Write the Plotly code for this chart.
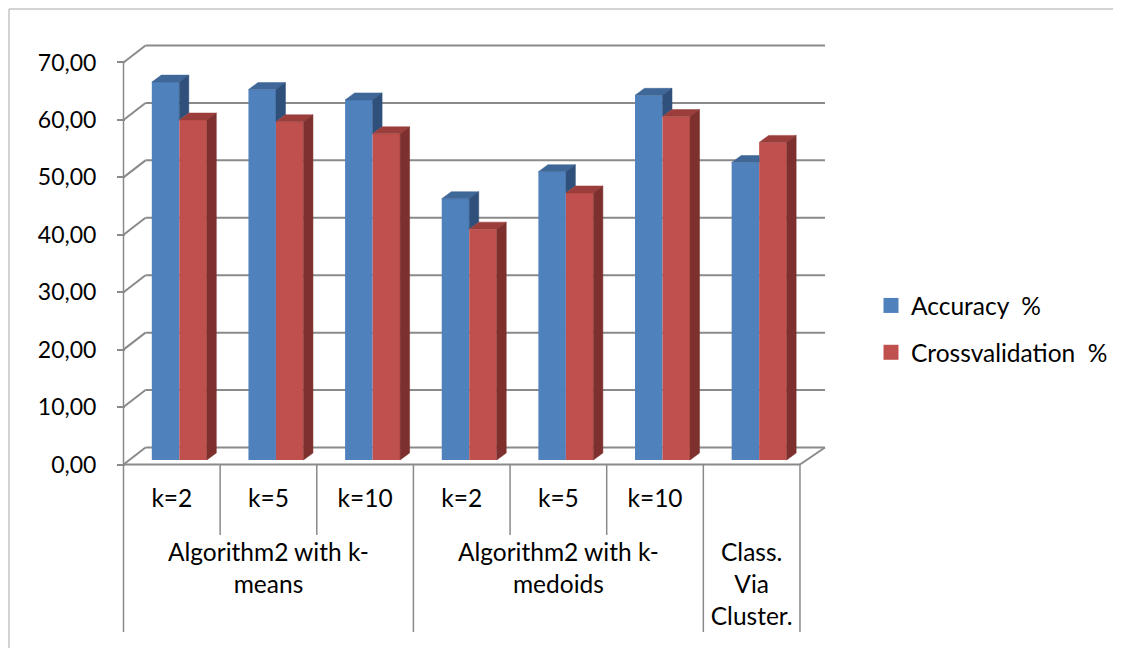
import plotly.graph_objects as go

# ---------------- data ----------------
categories = ["k=2", "k=5", "k=10", "k=2", "k=5", "k=10", ""]
group_labels = ["Algorithm2 with k-<br>means", "Algorithm2 with k-<br>medoids", "Class.<br>Via<br>Cluster."]
group_centers = [1, 4, 6]
accuracy = [65.8, 64.5, 62.7, 45.5, 50.2, 63.5, 51.8]
crossval = [59.2, 58.9, 56.8, 40.2, 46.5, 59.8, 55.3]
tick_vals = [0, 10, 20, 30, 40, 50, 60, 70]
tick_text = ["0,00", "10,00", "20,00", "30,00", "40,00", "50,00", "60,00", "70,00"]
series_names = ["Accuracy \u00a0%", "Crossvalidation \u00a0%"]

# ---------------- geometry / style ----------------
OFF = 8                      # page body margin of the html page
W, H = 1121 - OFF, 648 - OFF
PX0, PY0, PW, PH = 100, 30, 740, 610     # plot area in screen pixels
UX = 96.64          # px per category
UY = 5.743          # px per value unit
Y0PX = 464.5        # pixel of value 0 on the front plane
XMIN = -0.5 - (123.5 - PX0) / UX
XMAX = XMIN + PW / UX
YMAX = (Y0PX - PY0) / UY
YMIN = YMAX - PH / UY

def ypx(p):
    return (Y0PX - p) / UY

DXL, DXR, DYU = 22 / UX, 25 / UX, 17 / UY      # depth of wall
BW = 27.5 / UX                                   # bar width
SH = 7.5 / UX                                    # bar pair shift (depth)
BASE = 4.5 / UY                                  # bar base above front floor
DDX, DDY = 9.5 / UX, 7 / UY                      # bar depth

FONT = "Lato, Carlito, Calibri, sans-serif"
GRID = "#8A8A8A"
BLUE, RED = "#4F81BD", "#C0504D"
BLUE_TOP, BLUE_SIDE = "#3F6797", "#2F507A"
RED_TOP, RED_SIDE = "#9B3E3B", "#7E302E"

n = len(categories)
idx = list(range(n))
xs = [i + SH for i in idx]

fig = go.Figure()

# front faces
fig.add_trace(go.Bar(x=xs, y=accuracy, base=BASE, width=BW, offset=-BW,
                     marker=dict(color=BLUE, line=dict(width=0)), showlegend=False, hoverinfo="skip"))
fig.add_trace(go.Bar(x=xs, y=crossval, base=BASE, width=BW, offset=0,
                     marker=dict(color=RED, line=dict(width=0)), showlegend=False, hoverinfo="skip"))

# top / side faces
bt_x, bt_y, bs_x, bs_y, rt_x, rt_y, rs_x, rs_y = ([] for _ in range(8))
for i in idx:
    xl, xm, xr = xs[i] - BW, xs[i], xs[i] + BW
    tb, tr = BASE + accuracy[i], BASE + crossval[i]
    rt_x += [xm, xr, xr + DDX, xm + DDX, xm, None]
    rt_y += [tr, tr, tr + DDY, tr + DDY, tr, None]
    rs_x += [xr, xr + DDX, xr + DDX, xr, xr, None]
    rs_y += [BASE, BASE + DDY, tr + DDY, tr, BASE, None]
    if accuracy[i] >= crossval[i]:
        bt_x += [xl, xm, xm + DDX, xl + DDX, xl, None]
        bt_y += [tb, tb, tb + DDY, tb + DDY, tb, None]
        bs_x += [xm, xm + DDX, xm + DDX, xm, xm, None]
        bs_y += [tr, tr + DDY, tb + DDY, tb, tr, None]
    else:
        bt_x += [xl, xm, xm, xl + DDX, xl, None]
        bt_y += [tb, tb, tb + DDY, tb + DDY, tb, None]

for fx, fy, col in [(bt_x, bt_y, BLUE_TOP), (bs_x, bs_y, BLUE_SIDE),
                    (rt_x, rt_y, RED_TOP), (rs_x, rs_y, RED_SIDE)]:
    fig.add_trace(go.Scatter(x=fx, y=fy, mode="lines", fill="toself", fillcolor=col,
                             line=dict(color=col, width=0.5), showlegend=False, hoverinfo="skip"))

# legend entries
for name, col, g in [(series_names[0], BLUE, "a"), (series_names[1], RED, "b")]:
    fig.add_trace(go.Scatter(x=[None], y=[None], mode="markers", name=name, legendgroup=g,
                             marker=dict(symbol="square", size=15, color=col)))

# ---------------- walls, grid, dividers ----------------
shapes = []
def line(x0, y0, x1, y1, color=GRID, width=2):
    shapes.append(dict(type="line", xref="x", yref="y", x0=x0, y0=y0, x1=x1, y1=y1,
                       line=dict(color=color, width=width), layer="below"))

for v in tick_vals:
    line(-0.5, v, -0.5 + DXL, v + DYU)
    line(-0.5 + DXL, v + DYU, n - 0.5 + DXR, v + DYU)
line(-0.5, 0, n - 0.5, 0)
line(n - 0.5, 0, n - 0.5 + DXR, DYU)
line(-0.5, tick_vals[-1], -0.5, ypx(632), width=1.5)
for b in [0.5, 1.5, 3.5, 4.5]:
    line(b, 0, b, ypx(535), width=1.5)
for b in [2.5, 5.5, 6.5]:
    line(b, 0, b, ypx(632), width=1.5)

# outer chart border
shapes.append(dict(type="rect", xref="paper", yref="paper",
                   x0=(9 - PX0) / PW, x1=(1117 - PX0) / PW,
                   y0=(PY0 + PH - 660) / PH, y1=(PY0 + PH - 9) / PH,
                   line=dict(color="#A8A8A8", width=1), layer="below"))

axis_pos_y = (PY0 + PH - Y0PX) / PH
fig.update_layout(
    template="none",
    width=W, height=H,
    margin=dict(l=PX0 - OFF, r=W - (PX0 - OFF) - PW, t=PY0 - OFF, b=H - (PY0 - OFF) - PH,
                autoexpand=False),
    paper_bgcolor="white", plot_bgcolor="white",
    font=dict(family=FONT, size=24.5, color="black"),
    barmode="overlay",
    shapes=shapes,
    separators=",.",
    xaxis=dict(range=[XMIN, XMAX], tickvals=idx, ticktext=categories, showgrid=False,
               zeroline=False, showline=False, ticks="", anchor="free", position=axis_pos_y,
               ticklabelstandoff=17, automargin=False, fixedrange=True,
               tickfont=dict(size=24.5)),
    xaxis2=dict(range=[XMIN, XMAX], overlaying="x", tickvals=group_centers, ticktext=group_labels,
                showgrid=False, zeroline=False, showline=False, ticks="", anchor="free",
                position=axis_pos_y, side="bottom", ticklabelstandoff=71, automargin=False,
                fixedrange=True, tickfont=dict(size=24.5)),
    yaxis=dict(range=[YMIN, YMAX], tickvals=tick_vals, ticktext=tick_text, showgrid=False,
               zeroline=False, showline=False, ticks="outside", ticklen=8, tickwidth=2,
               tickcolor=GRID, anchor="free", position=(125 - PX0) / PW,
               ticklabelstandoff=16, automargin=False, fixedrange=True,
               tickfont=dict(size=23)),
    legend=dict(xref="container", yref="container", x=(877 - OFF - 6) / W, y=1 - (284 - OFF - 1) / H,
                xanchor="left", yanchor="top", traceorder="grouped", tracegroupgap=12,
                font=dict(size=24.5), bgcolor="rgba(0,0,0,0)", itemsizing="trace"),
    showlegend=True,
)
fig.add_trace(go.Scatter(x=[None], y=[None], xaxis="x2", showlegend=False, hoverinfo="skip"))

fig.write_html("out.html")
